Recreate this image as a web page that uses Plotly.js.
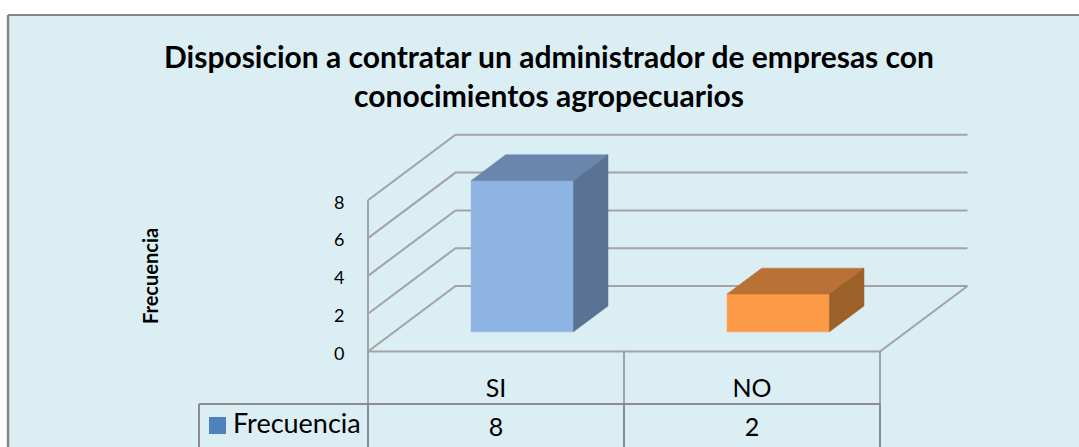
<!DOCTYPE html>
<html>
<head>
<meta charset="utf-8">
<script src="https://cdn.plot.ly/plotly-3.0.1.min.js"></script>
<style>html,body{margin:0;padding:0;background:#fff}#c{width:1079px;height:447px}</style>
</head>
<body>
<div id="c"></div>
<script>
const categories = ['SI', 'NO'];
const seriesName = 'Frecuencia';
const frecuencia = [8, 2];
const yTicks = [0, 2, 4, 6, 8];
const titleLines = ['Disposicion a contratar un administrador de empresas con', 'conocimientos agropecuarios'];
const yTitle = 'Frecuencia';

const W = 1079, H = 447, left = 8, top_ = 15;
const catPx = 256, unitPx = 18.9, x0Px = 368, y0Px = 351.5;
const toX = p => (p - x0Px) / catPx, toY = p => (y0Px - p) / unitPx;
const depthX = 87.5 / catPx, depthY = 65.5 / unitPx;
const proj = (x, y, d) => [x + d * depthX, y + d * depthY];
const barW = 0.4, d0 = 0.30, d1 = 0.695;
const FONT = 'Lato, Carlito, Calibri, sans-serif';
const GRID = '#A3A3A3', TBL = '#8C8C8C';
const traces = [];
function poly(points, fill) {
  const pts = points.concat([points[0]]);
  traces.push({type:'scatter', mode:'lines', x:pts.map(p=>p[0]), y:pts.map(p=>p[1]), fill:'toself',
    fillcolor:fill, line:{color:fill, width:0.5}, hoverinfo:'skip', showlegend:false, cliponaxis:false});
}
function line(points, color, width) {
  traces.push({type:'scatter', mode:'lines', x:points.map(p=>p[0]), y:points.map(p=>p[1]),
    line:{color:color, width:width}, hoverinfo:'skip', showlegend:false});
}
const n = categories.length;
// back wall, left wall, floor
yTicks.forEach(t => {
  line([proj(0,t,0), proj(0,t,1), proj(n,t,1)], GRID, 2);
});
line([[0,0],[0,yTicks[yTicks.length-1]]], GRID, 2);
line([proj(n,0,1), proj(n,0,0), [0,0]], GRID, 2);

// bars
const faces = [
  {front:'#8EB4E3', top:'#6A86AC', side:'#5A7294'},
  {front:'#FD9A48', top:'#BA7135', side:'#9C6029'}
];
frecuencia.forEach((v,i) => {
  const a = i + (1-barW)/2, b = a + barW, c = faces[i];
  poly([proj(a,0,d0),proj(b,0,d0),proj(b,v,d0),proj(a,v,d0)], c.front);
  poly([proj(a,v,d0),proj(b,v,d0),proj(b,v,d1),proj(a,v,d1)], c.top);
  poly([proj(b,0,d0),proj(b,0,d1),proj(b,v,d1),proj(b,v,d0)], c.side);
});

// data table
const rowY = toY(404), botY = toY(H+2), legX = toX(199);
for (let i=0;i<=n;i++) {
  line([[i,0],[i,rowY]], TBL, 1.5);
  line([[i,rowY],[i,botY]], TBL, 2);
}
line([[legX,rowY],[n,rowY]], TBL, 2);
line([[legX,rowY],[legX,botY]], TBL, 2);
traces.push({type:'scatter', mode:'text', x:categories.map((_,i)=>i+0.5), y:categories.map(()=>toY(391)),
  text:categories, textfont:{family:FONT,size:25,color:'#000'}, textposition:'middle center', hoverinfo:'skip', showlegend:false});
traces.push({type:'scatter', mode:'text', x:categories.map((_,i)=>i+0.5), y:categories.map(()=>toY(430)),
  text:frecuencia.map(String), textfont:{family:FONT,size:25,color:'#000'}, textposition:'middle center', hoverinfo:'skip', showlegend:false});
traces.push({type:'scatter', mode:'markers', x:[toX(217.5)], y:[toY(425.5)],
  marker:{symbol:'square', size:17, color:'#4F81BD', line:{width:0}}, hoverinfo:'skip', showlegend:false});
traces.push({type:'scatter', mode:'text', x:[toX(233)], y:[toY(426.5)], text:[seriesName],
  textfont:{family:FONT,size:27,color:'#000'}, textposition:'middle right', hoverinfo:'skip', showlegend:false});

const layout = {
  width:W, height:H, margin:{l:left,r:0,t:top_,b:0,pad:0},
  paper_bgcolor:'#FFFFFF', plot_bgcolor:'#DBEEF4',
  showlegend:false,
  title:{text:titleLines.join('<br>'), font:{family:FONT,size:30,color:'#000',weight:700},
    x:549/W, xanchor:'center', y:1-68/H, yanchor:'middle', automargin:false},
  xaxis:{range:[toX(left),toX(W)], showgrid:false, zeroline:false, showticklabels:false, ticks:'',
    fixedrange:true, showline:false},
  yaxis:{range:[toY(H),toY(top_)], anchor:'free', position:(x0Px-left)/(W-left), showgrid:false, zeroline:false,
    tickvals:yTicks, ticktext:yTicks.map(String), ticks:'outside', ticklen:20, tickcolor:'rgba(0,0,0,0)',
    ticklabelshift:2,
    tickfont:{family:FONT,size:18,color:'#000'}, showline:false, fixedrange:true},
  annotations:[{text:'<b>'+yTitle+'</b>', xref:'paper', yref:'paper', x:(149.5-left)/(W-left), y:(H-276.5)/(H-top_),
    xanchor:'center', yanchor:'middle', textangle:-90, showarrow:false, font:{family:FONT,size:20,color:'#000'}}],
  shapes:[
    {type:'line', xref:'paper', yref:'paper', x0:0, x1:1, y0:1, y1:1, line:{color:'#868686',width:2}},
    {type:'line', xref:'paper', yref:'paper', x0:0, x1:0, y0:0, y1:1, line:{color:'#868686',width:2.5}}
  ]
};
Plotly.newPlot('c', traces, layout, {displayModeBar:false, staticPlot:true});
</script>
</body>
</html>
